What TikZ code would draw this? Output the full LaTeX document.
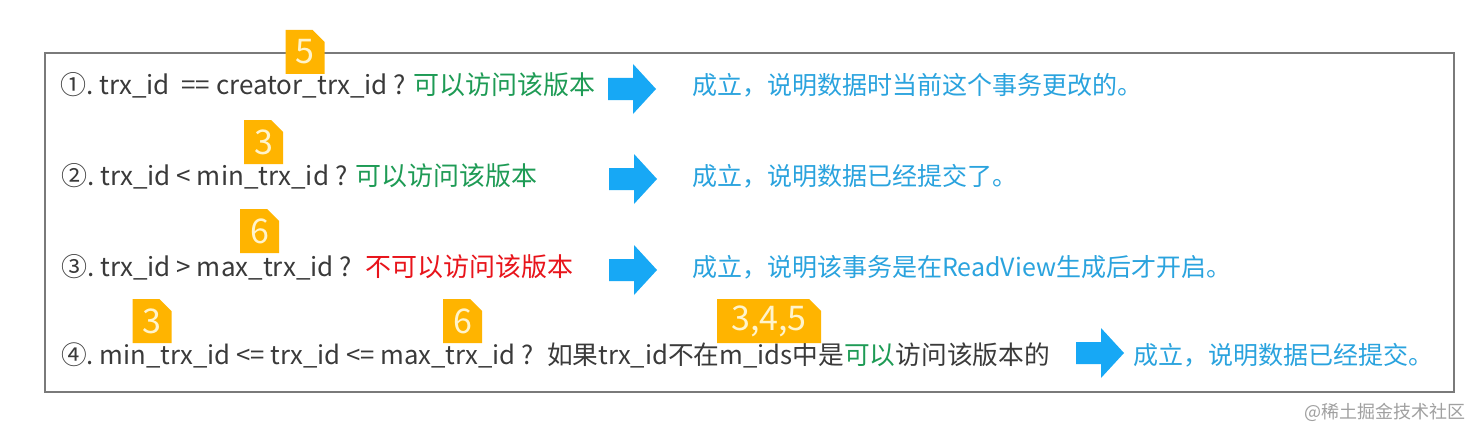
\documentclass[tikz,border=0pt]{standalone}
\usepackage{fontspec}
\setmainfont{Noto Sans CJK SC}
\usetikzlibrary{shapes.misc}
\definecolor{txt}{HTML}{3A3A3A}
\definecolor{grn}{HTML}{1E9B55}
\definecolor{rd}{HTML}{E8141B}
\definecolor{bltxt}{HTML}{2AA3DE}
\definecolor{arrowblue}{HTML}{17A8F5}
\definecolor{tagcol}{HTML}{FFB400}
\definecolor{tagtxt}{HTML}{FFF4CC}
\definecolor{framecol}{HTML}{7A7A7A}
\definecolor{wm}{HTML}{A0A0A0}
\tikzset{
  rowtext/.style={anchor=base west, inner sep=0pt, text=txt, font=\fontsize{26}{30}\selectfont},
  restext/.style={anchor=base west, inner sep=0pt, text=bltxt, font=\fontsize{25}{30}\selectfont},
  tagbox/.style={chamfered rectangle, chamfered rectangle corners=north east,
    chamfered rectangle xsep=6pt, chamfered rectangle ysep=6pt,
    fill=tagcol, text=tagtxt, inner sep=0pt, minimum height=44pt, minimum width=39pt,
    font=\fontsize{34}{36}\selectfont},
  blockarrow/.style={fill=arrowblue}
}
\newcommand\myarrow[2]{\fill[blockarrow] (#1-24,#2-11) -- (#1+1,#2-11) -- (#1+1,#2-25) -- (#1+24,#2) -- (#1+1,#2+25) -- (#1+1,#2+11) -- (#1-24,#2+11) -- cycle;}
\begin{document}
\begin{tikzpicture}[x=1pt,y=-1pt]
\useasboundingbox[fill=white] (0,0) rectangle (1481,436);
\node[draw=framecol, line width=1.1pt, minimum width=1409pt, minimum height=339pt, inner sep=0pt] (frame) at (749.5,222.5) {};

% rows
\node[rowtext] (r1) at (60,95) {①.\ trx\_id \ == creator\_trx\_id ? \textcolor{grn}{可以访问该版本}};
\node[rowtext] (r2) at (61,185) {②.\ trx\_id < min\_trx\_id ? \textcolor{grn}{可以访问该版本}};
\node[rowtext] (r3) at (61,276) {③.\ trx\_id > max\_trx\_id ? \ \textcolor{rd}{不可以访问该版本}};
\node[rowtext, font=\fontsize{25.7}{30}\selectfont] (r4) at (61,364) {④.\ min\_trx\_id <= trx\_id <= max\_trx\_id ? \ 如果trx\_id不在m\_ids中是\textcolor{grn}{可以}访问该版本的};

% arrows
\myarrow{632}{89}
\myarrow{633}{179}
\myarrow{633}{270}
\myarrow{1100}{353}

% results
\node[restext] (s1) at (692,95) {成立，说明数据时当前这个事务更改的。};
\node[restext] (s2) at (692,185) {成立，说明数据已经提交了。};
\node[restext] (s3) at (692,276) {成立，说明该事务是在ReadView生成后才开启。};
\node[restext] (s4) at (1133,364) {成立，说明数据已经提交。};

% tags
\node[tagbox] (t1) at (305,52) {5};
\node[tagbox] (t2) at (263.5,142) {3};
\node[tagbox] (t3) at (259.5,231) {6};
\node[tagbox] (t4) at (152,321) {3};
\node[tagbox] (t5) at (462.5,321) {6};
\node[tagbox, minimum width=104pt] (t6) at (769,321) {3,4,5};

% watermark
\node[anchor=base east, inner sep=0pt, text=wm, font=\fontsize{18}{20}\selectfont] (wmk) at (1466,418) {@稀土掘金技术社区};
\end{tikzpicture}
\end{document}
